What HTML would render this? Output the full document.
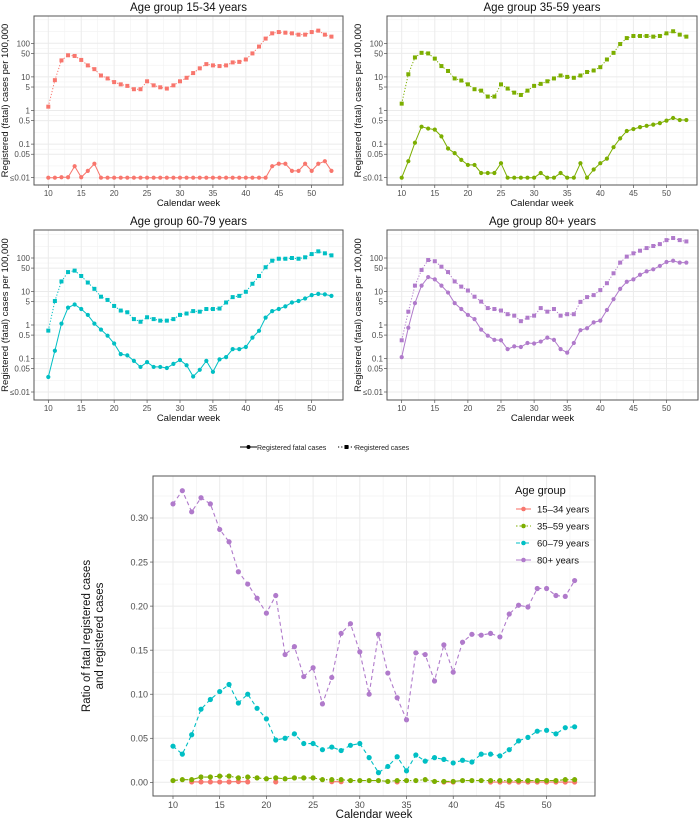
<!DOCTYPE html>
<html><head><meta charset="utf-8"><style>
html,body{margin:0;padding:0;background:#fff}
svg{display:block;font-family:"Liberation Sans",sans-serif}
</style></head><body>
<svg id="chart" width="700" height="823" viewBox="0 0 700 823" xmlns="http://www.w3.org/2000/svg"></svg>
<script>
const weeks = [10,11,12,13,14,15,16,17,18,19,20,21,22,23,24,25,26,27,28,29,30,31,32,33,34,35,36,37,38,39,40,41,42,43,44,45,46,47,48,49,50,51,52,53];
const groupNames = ["15-34","35-59","60-79","80+"];
const groupColors = ["#F8766D","#7CAE00","#00BFC4","#B07ACB"];
const cases1534 = [1.3,8,31,44,42,32,22,17,11,9,7,6,5.4,4.3,4.3,7.4,5.6,4.9,4.5,5.6,7.4,9.4,13,18,24,22,21,22,27,28,33,50,80,138,198,216,207,198,181,181,216,238,181,158];
const fatal1534 = [0.01,0.01,0.0103,0.0103,0.022,0.0103,0.016,0.026,0.01,0.01,0.01,0.01,0.01,0.01,0.01,0.01,0.01,0.01,0.01,0.01,0.01,0.01,0.01,0.01,0.01,0.01,0.01,0.01,0.01,0.01,0.01,0.01,0.01,0.01,0.022,0.026,0.026,0.016,0.016,0.026,0.016,0.026,0.031,0.016];
const cases3559 = [1.6,12,38,52,50,35,21,15,9,7.8,6,4.3,3.9,2.6,2.6,6,4.5,3.4,2.9,3.9,5.4,6.2,7.4,9,11,10,9.4,11,14,15.5,19.5,33,52,95,143,165,165,165,158,165,198,228,181,158];
const fatal3559 = [0.01,0.031,0.11,0.33,0.29,0.27,0.17,0.074,0.054,0.034,0.024,0.024,0.0138,0.0138,0.0138,0.027,0.01,0.01,0.01,0.01,0.01,0.0138,0.01,0.01,0.0138,0.01,0.01,0.027,0.01,0.0175,0.027,0.037,0.081,0.148,0.245,0.28,0.32,0.35,0.38,0.42,0.5,0.6,0.52,0.52];
const cases6079 = [0.68,5.2,20,38,42,29,18.5,12,7,5.6,3.7,2.7,2.4,1.5,1.25,1.7,1.5,1.35,1.35,1.5,2,2.2,2.6,2.5,3,3,3.1,4.7,6.8,7.4,9.8,17,29,53,83,95,95,100,95,105,131,158,138,120];
const fatal6079 = [0.028,0.17,1.1,3.3,4.1,3,2,1.1,0.73,0.48,0.28,0.135,0.124,0.085,0.056,0.078,0.056,0.056,0.052,0.069,0.09,0.063,0.029,0.046,0.085,0.04,0.094,0.11,0.19,0.19,0.22,0.42,0.67,1.66,2.6,3,3.6,4.7,5.2,6.2,7.8,8.5,8.2,7.4];
const cases80 = [0.35,2.5,15,44,87,80,55,38,20,14,10.7,7,5,3.2,3,2.7,2.1,1.9,1.3,1.65,1.9,3.2,2.5,3,1.9,2.1,2.1,4.9,6.8,7.8,11,17.7,35,73,110,138,165,198,228,260,342,395,342,312];
const fatal80 = [0.11,0.83,4.5,15,27,23,15,9.3,4.5,3,2,1.5,0.73,0.48,0.36,0.35,0.19,0.23,0.22,0.29,0.28,0.32,0.42,0.36,0.19,0.15,0.29,0.7,0.8,1.2,1.35,2.8,5.9,12,19.5,23,31.6,40,46,58,76,83,73,73];
const ratio1534 = [null,null,0.0005,0.0004,0.0004,0.0004,0.0005,0.0008,0.0005,null,null,0.0005,null,null,null,null,null,0.0007,0.0007,null,null,null,null,null,0.0004,null,null,null,null,0.0003,0.0003,null,null,null,0.0003,0.0003,0.0003,0.0003,0.0003,0.0003,0.0003,0.0003,0.0003,0.0003];
const ratio3559 = [0.002,0.003,0.003,0.006,0.006,0.007,0.007,0.005,0.006,0.005,0.004,0.005,0.004,0.005,0.005,0.005,0.003,0.003,0.003,0.002,0.002,0.002,0.002,0.001,0.002,0.002,0.002,0.003,0.001,0.001,0.001,0.002,0.002,0.002,0.002,0.002,0.002,0.002,0.002,0.002,0.002,0.002,0.003,0.003];
const ratio6079 = [0.041,0.032,0.054,0.083,0.094,0.103,0.111,0.090,0.100,0.084,0.072,0.048,0.050,0.055,0.044,0.044,0.037,0.040,0.036,0.042,0.044,0.028,0.011,0.018,0.029,0.013,0.031,0.024,0.028,0.026,0.022,0.025,0.023,0.032,0.032,0.030,0.037,0.047,0.051,0.058,0.059,0.055,0.062,0.063];
const ratio80 = [0.316,0.331,0.307,0.323,0.316,0.287,0.273,0.239,0.225,0.209,0.192,0.212,0.145,0.154,0.120,0.130,0.089,0.119,0.169,0.180,0.148,0.100,0.168,0.124,0.096,0.071,0.147,0.145,0.115,0.156,0.125,0.159,0.168,0.167,0.169,0.165,0.191,0.201,0.199,0.220,0.220,0.212,0.211,0.229];
const xTicks = [10,15,20,25,30,35,40,45,50];
const logTicks = [0.01,0.05,0.1,0.5,1,5,10,50,100];
const logTickLabels = ["≤0.01","0.05","0.1","0.5","1","5","10","50","100"];
const ratioTicks = [0,0.05,0.10,0.15,0.20,0.25,0.30];
const ratioTickLabels = ["0.00","0.05","0.10","0.15","0.20","0.25","0.30"];

const NS="http://www.w3.org/2000/svg";
const svg=document.getElementById('chart');
function mk(tag,attrs,parent,text){const e=document.createElementNS(NS,tag);for(const k in attrs)e.setAttribute(k,attrs[k]);if(text!==undefined)e.textContent=text;(parent||svg).appendChild(e);return e;}

const panels=[
 {title:"Age group 15-34 years",x0:34,x1:343,y0:16,y1:185,xw10:48.3,pw:6.585,y100:43.3,dec:33.6,cases:cases1534,fatal:fatal1534,col:groupColors[0]},
 {title:"Age group 35-59 years",x0:387,x1:697,y0:16,y1:185,xw10:401.7,pw:6.62,y100:43.3,dec:33.6,cases:cases3559,fatal:fatal3559,col:groupColors[1]},
 {title:"Age group 60-79 years",x0:34,x1:343,y0:230,y1:400,xw10:48.3,pw:6.585,y100:258,dec:33.5,cases:cases6079,fatal:fatal6079,col:groupColors[2]},
 {title:"Age group 80+ years",x0:387,x1:698,y0:230,y1:400,xw10:401.7,pw:6.62,y100:258,dec:33.5,cases:cases80,fatal:fatal80,col:groupColors[3]}
];
panels.forEach((p,pi)=>{
 const g=mk('g',{});
 
 
 const xs=w=>p.xw10+(w-10)*p.pw;
 const ys=v=>p.y100-(Math.log10(Math.max(v,0.01))-2)*p.dec;
 // grid
 for(let w=7.5;w<=55;w+=5){const x=xs(w);if(x>p.x0&&x<p.x1)mk('line',{x1:x,x2:x,y1:p.y0,y2:p.y1,stroke:'#f2f2f2','stroke-width':0.6},g);}
 for(let i=0;i<logTicks.length-1;i++){const y=(ys(logTicks[i])+ys(logTicks[i+1]))/2;mk('line',{x1:p.x0,x2:p.x1,y1:y,y2:y,stroke:'#f2f2f2','stroke-width':0.6},g);}
 [ys(100)-p.dec*0.35,ys(100)-p.dec*0.7].forEach(y=>{if(y>p.y0)mk('line',{x1:p.x0,x2:p.x1,y1:y,y2:y,stroke:'#f2f2f2','stroke-width':0.6},g);});
 xTicks.forEach(w=>{const x=xs(w);mk('line',{x1:x,x2:x,y1:p.y0,y2:p.y1,stroke:'#ebebeb','stroke-width':1},g);
   mk('line',{x1:x,x2:x,y1:p.y1,y2:p.y1+3,stroke:'#333','stroke-width':0.6},g);
   const t=mk('text',{x:x,y:p.y1+11,'font-size':8,fill:'#4d4d4d','text-anchor':'middle'},g,String(w));
   });
 logTicks.forEach((v,i)=>{const y=ys(v);mk('line',{x1:p.x0,x2:p.x1,y1:y,y2:y,stroke:'#ebebeb','stroke-width':1},g);
   mk('line',{x1:p.x0-3,x2:p.x0,y1:y,y2:y,stroke:'#333','stroke-width':0.6},g);
   const t=mk('text',{x:p.x0-4,y:y+3,'font-size':8,fill:'#4d4d4d','text-anchor':'end'},g,logTickLabels[i]);
   });
 mk('rect',{x:p.x0,y:p.y0,width:p.x1-p.x0,height:p.y1-p.y0,fill:'none',stroke:'#555','stroke-width':1},g);
 const tt=mk('text',{x:(p.x0+p.x1)/2,y:p.y0-5,'font-size':11.5,fill:'#111','text-anchor':'middle'},g,p.title);
 
 const xt=mk('text',{x:(p.x0+p.x1)/2,y:p.y1+21,'font-size':9.5,fill:'#111','text-anchor':'middle'},g,'Calendar week');
 
 const cy=(p.y0+p.y1)/2, cx=p.x0-26;
 const yt=mk('text',{x:cx,y:cy,'font-size':9.5,fill:'#111','text-anchor':'middle',transform:`rotate(-90 ${cx} ${cy})`},g,'Registered (fatal) cases per 100,000');
 
 // series
 const cp=weeks.map((w,i)=>xs(w)+','+ys(p.cases[i])).join(' ');
 const cl=mk('polyline',{points:cp,fill:'none',stroke:p.col,'stroke-width':1,'stroke-dasharray':'1.2 1.8'},g);
 
 const fp=weeks.map((w,i)=>xs(w)+','+ys(p.fatal[i])).join(' ');
 const fl=mk('polyline',{points:fp,fill:'none',stroke:p.col,'stroke-width':1},g);
 
 weeks.forEach((w,i)=>{
  const s=mk('rect',{x:xs(w)-2,y:ys(p.cases[i])-2,width:4,height:4,fill:p.col},g);
  
  const c=mk('circle',{cx:xs(w),cy:ys(p.fatal[i]),r:2.1,fill:p.col},g);
  
 });
});

// shared legend
const lg=mk('g',{});

mk('line',{x1:240,x2:257,y1:447,y2:447,stroke:'#000','stroke-width':1},lg);
mk('circle',{cx:248.5,cy:447,r:2,fill:'#000'},lg);
mk('text',{x:257,y:450,'font-size':7,fill:'#222'},lg,'Registered fatal cases');
mk('line',{x1:338,x2:355,y1:447,y2:447,stroke:'#000','stroke-width':1,'stroke-dasharray':'1.2 2'},lg);
mk('rect',{x:344.5,y:445,width:4,height:4,fill:'#000'},lg);
mk('text',{x:355,y:450,'font-size':7,fill:'#222'},lg,'Registered cases');

// ratio chart
const R={x0:153,x1:595,y0:476,y1:796,xw10:173,pw:9.34,yz:782.3,pu:881};
const rx=w=>R.xw10+(w-10)*R.pw;
const ry=v=>R.yz-v*R.pu;
const rg=mk('g',{});

for(let w=7.5;w<=55;w+=5){const x=rx(w);if(x>R.x0&&x<R.x1)mk('line',{x1:x,x2:x,y1:R.y0,y2:R.y1,stroke:'#f2f2f2','stroke-width':0.7},rg);}
for(let v=0.025;v<0.35;v+=0.05){const y=ry(v);if(y>R.y0)mk('line',{x1:R.x0,x2:R.x1,y1:y,y2:y,stroke:'#f2f2f2','stroke-width':0.7},rg);}
xTicks.forEach(w=>{const x=rx(w);mk('line',{x1:x,x2:x,y1:R.y0,y2:R.y1,stroke:'#ebebeb','stroke-width':1},rg);
 mk('line',{x1:x,x2:x,y1:R.y1,y2:R.y1+3,stroke:'#333','stroke-width':0.6},rg);
 const t=mk('text',{x:x,y:R.y1+12,'font-size':9,fill:'#4d4d4d','text-anchor':'middle'},rg,String(w));
 });
ratioTicks.forEach((v,i)=>{const y=ry(v);mk('line',{x1:R.x0,x2:R.x1,y1:y,y2:y,stroke:'#ebebeb','stroke-width':1},rg);
 mk('line',{x1:R.x0-3,x2:R.x0,y1:y,y2:y,stroke:'#333','stroke-width':0.6},rg);
 const t=mk('text',{x:R.x0-5,y:y+3.2,'font-size':9,fill:'#4d4d4d','text-anchor':'end'},rg,ratioTickLabels[i]);
 });
mk('rect',{x:R.x0,y:R.y0,width:R.x1-R.x0,height:R.y1-R.y0,fill:'none',stroke:'#555','stroke-width':1},rg);
const rxt=mk('text',{x:(R.x0+R.x1)/2,y:818,'font-size':11.5,fill:'#111','text-anchor':'middle'},rg,'Calendar week');

const ryt=mk('text',{x:0,y:0,'font-size':11.5,fill:'#111','text-anchor':'middle',transform:'translate(0,636) rotate(-90)'},rg);

mk('tspan',{x:0,y:90},ryt,'Ratio of fatal registered cases');
mk('tspan',{x:0,y:103},ryt,'and registered cases');

const ratioSeries=[ratio1534,ratio3559,ratio6079,ratio80];
const dashes=['none','5 2 1.5 2','4 3','4 3'];
ratioSeries.forEach((arr,si)=>{
 let seg=[];const segs=[];
 arr.forEach((v,i)=>{if(v===null){if(seg.length)segs.push(seg);seg=[];}else seg.push(rx(weeks[i])+','+ry(v));});
 if(seg.length)segs.push(seg);
 segs.forEach(s=>{if(s.length>1){const l=mk('polyline',{points:s.join(' '),fill:'none',stroke:groupColors[si],'stroke-width':1.1,'stroke-dasharray':dashes[si]},rg);
  }});
 arr.forEach((v,i)=>{if(v===null)return;
  const c=mk('circle',{cx:rx(weeks[i]),cy:ry(v),r:2.6,fill:groupColors[si]},rg);
  });
});
// legend
const ag=mk('g',{});

mk('text',{x:515,y:494,'font-size':11,fill:'#111'},ag,'Age group');
const legLabels=["15–34 years","35–59 years","60–79 years","80+ years"];
const legDash=['none','1.5 2','4 2 1 2','6 3'];
legLabels.forEach((s,i)=>{const y=509+i*17;
 const e=mk('g',{},ag);
 
 mk('line',{x1:516,x2:531,y1:y,y2:y,stroke:groupColors[i],'stroke-width':1.1,'stroke-dasharray':legDash[i]},e);
 mk('circle',{cx:523.5,cy:y,r:2.3,fill:groupColors[i]},e);
 mk('text',{x:537,y:y+3.5,'font-size':9.5,fill:'#111'},e,s);
});
</script>
</body></html>
